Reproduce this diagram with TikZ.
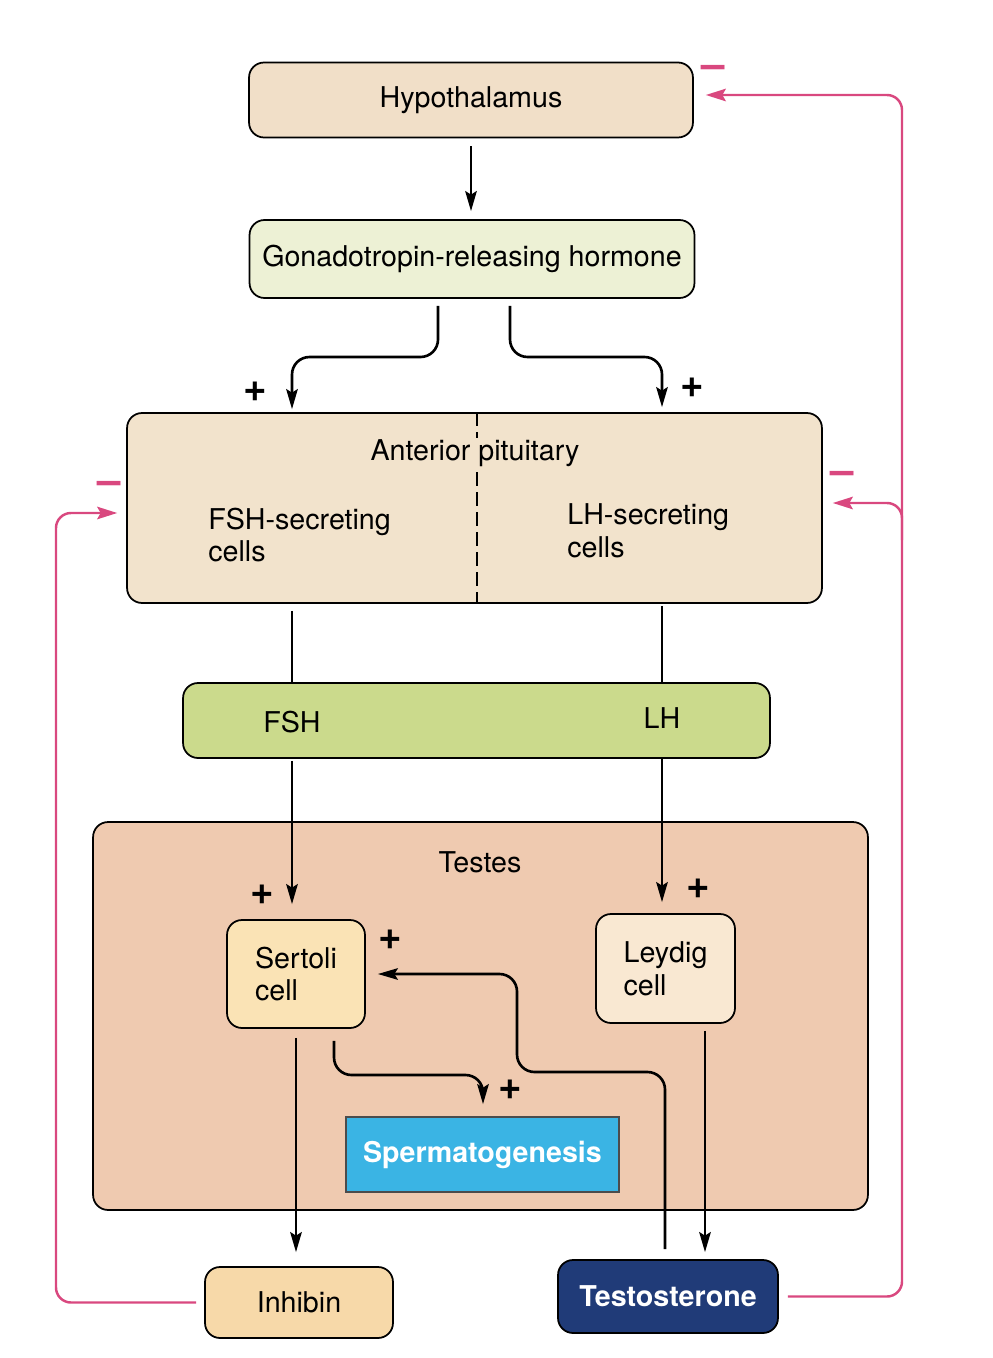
\documentclass[tikz,border=0pt]{standalone}
\usepackage{fontspec}
\setmainfont{TeX Gyre Heros}
\usetikzlibrary{arrows.meta, positioning, calc}

\definecolor{hypfill}{HTML}{F1DFC8}
\definecolor{gnrhfill}{HTML}{EDF1D5}
\definecolor{pitfill}{HTML}{F2E3CC}
\definecolor{barfill}{HTML}{CBDA8C}
\definecolor{testesfill}{HTML}{EFCAB0}
\definecolor{sertfill}{HTML}{FAE3B5}
\definecolor{leyfill}{HTML}{F9E8D2}
\definecolor{spermfill}{HTML}{3AB4E4}
\definecolor{inhfill}{HTML}{F7D9A9}
\definecolor{testofill}{HTML}{203B78}
\definecolor{pinkfb}{HTML}{D9487F}

\tikzset{
  box/.style={draw=black, line width=1pt, rounded corners=0.3cm,
    font=\fontsize{16.3}{18.7}\selectfont, align=left, inner sep=0pt},
  lbl/.style={font=\fontsize{16.3}{18.7}\selectfont, align=left, inner sep=0pt},
  flow/.style={-{Stealth[length=4mm, width=2.3mm, inset=0.7mm]}, line width=1.5pt,
    rounded corners=0.35cm},
  plain/.style={line width=1.5pt},
  feedback/.style={-{Stealth[length=4mm, width=2.5mm, inset=0.7mm]}, draw=pinkfb,
    line width=1.4pt, rounded corners=0.3cm},
  plus/.style={font=\fontsize{23}{23}\selectfont\bfseries, inner sep=0pt},
  minus/.style={font=\fontsize{24}{24}\selectfont\bfseries, text=pinkfb, inner sep=0pt},
}

\begin{document}
\begin{tikzpicture}[x=0.02cm, y=-0.02cm]
  \useasboundingbox (0,0) rectangle (992,1358);

  % Guide coordinates
  \coordinate (fshcol) at (292,0);
  \coordinate (lhcol) at (662,0);
  \coordinate (gleft) at (438,357);
  \coordinate (gright) at (510,357);
  \coordinate (divx) at (477,0);
  \coordinate (spturn) at (483,1075);
  \coordinate (tup) at (665,0);
  \coordinate (tturn) at (517,1072);
  \coordinate (tcol) at (705,0);
  \coordinate (lfb) at (56,513);
  \coordinate (rfb) at (902,95);
  \coordinate (rbr) at (902,540);

  % Testes background
  \node[box, fill=testesfill, minimum width=15.5cm, minimum height=7.76cm] (testes) at (480.5,1016) {};
  \node[lbl] (testeslbl) at (480,862) {Testes};

  % Main boxes
  \node[box, fill=hypfill, minimum width=8.88cm, minimum height=1.5cm] (hyp) at (471,100) {Hypothalamus};
  \node[box, fill=gnrhfill, minimum width=8.9cm, minimum height=1.56cm] (gnrh) at (472,259) {Gonadotropin-releasing hormone};
  \node[box, fill=pitfill, minimum width=13.9cm, minimum height=3.8cm] (pit) at (474.5,508) {};
  \node[box, fill=barfill, minimum width=11.74cm, minimum height=1.5cm] (bar) at (476.5,720.5) {};
  \node[box, fill=sertfill, minimum width=2.76cm, minimum height=2.16cm] (sertoli) at (296,974) {Sertoli\\cell};
  \node[box, fill=leyfill, minimum width=2.78cm, minimum height=2.18cm] (leydig) at (665.5,968.5) {Leydig\\cell};
  \node[box, rounded corners=0pt, fill=spermfill, draw=black!70, text=white, font=\fontsize{16.3}{18.7}\selectfont\bfseries,
    minimum width=5.46cm, minimum height=1.5cm] (sperm) at (482.5,1154.5) {Spermatogenesis};
  \node[box, fill=inhfill, minimum width=3.76cm, minimum height=1.42cm] (inhibin) at (299,1302.5) {Inhibin};
  \node[box, fill=testofill, text=white, font=\fontsize{16.3}{18.7}\selectfont\bfseries,
    minimum width=4.4cm, minimum height=1.46cm] (testo) at (668,1296.5) {Testosterone};

  % Pituitary contents
  \draw[line width=0.7pt, dash pattern=on 0.28cm off 0.12cm] (pit.north -| divx) -- (pit.south -| divx);
  \node[lbl, fill=pitfill, inner sep=1pt] (pittitle) at (475,453) {Anterior pituitary};
  \node[lbl, anchor=west] (fshcells) at (208,535) {FSH-secreting\\cells};
  \node[lbl, anchor=west] (lhcells) at (567,531) {LH-secreting\\cells};

  % Hormone bar labels
  \node[lbl] (fshlbl) at (292,722) {FSH};
  \node[lbl] (lhlbl) at (662,718) {LH};

  % Stimulating connectors
  \draw[flow, shorten <=0.16cm, shorten >=0.16cm] (hyp.south) -- (hyp.south |- gnrh.north);
  \draw[flow, shorten <=0.14cm, shorten >=0.06cm] (gnrh.south -| gleft) |- (gleft -| fshcol) -- (pit.north -| fshcol);
  \draw[flow, shorten <=0.14cm, shorten >=0.1cm] (gnrh.south -| gright) |- (gright -| lhcol) -- (pit.north -| lhcol);
  \draw[plain, shorten <=0.14cm] (pit.south -| fshcol) -- (bar.north -| fshcol);
  \draw[plain, shorten <=0.04cm] (pit.south -| lhcol) -- (bar.north -| lhcol);
  \draw[flow, shorten <=0.04cm, shorten >=0.3cm] (bar.south -| fshcol) -- (sertoli.north -| fshcol);
  \draw[flow, shorten >=0.22cm] (bar.south -| lhcol) -- (leydig.north -| lhcol);
  \draw[flow, shorten <=0.18cm, shorten >=0.28cm] (sertoli.south) -- (inhibin.north -| sertoli.south);
  \draw[flow, shorten <=0.14cm, shorten >=0.14cm] (leydig.south -| tcol) -- (testo.north -| tcol);
  \draw[flow, shorten <=0.24cm, shorten >=0.24cm] (sertoli.south -| 334,0) |- (spturn) -- (sperm.north -| spturn);
  \draw[flow, shorten <=0.2cm, shorten >=0.24cm] (testo.north -| tup) |- (tturn) |- (sertoli.east);

  % Negative feedback
  \draw[feedback, shorten <=0.16cm, shorten >=0.18cm] (inhibin.west) -| (lfb) -- ([yshift=-0.1cm]pit.west);
  \draw[feedback, shorten <=0.18cm, shorten >=0.24cm] (testo.east) -| (rfb) -- (hyp.east |- rfb);
  \draw[feedback, shorten >=0.2cm] (rbr) |- ([yshift=0.1cm]pit.east);

  % Signs
  \node[plus] (plusa) at (255,392) {+};
  \node[plus] (plusb) at (692,388) {+};
  \node[plus] (plusc) at (262,895) {+};
  \node[plus] (plusd) at (698,889) {+};
  \node[plus] (pluse) at (390,940) {+};
  \node[plus] (plusf) at (510,1090) {+};
  \node[minus] (minusa) at (713,72) {\textendash};
  \node[minus] (minusb) at (842,478) {\textendash};
  \node[minus] (minusc) at (109,488) {\textendash};
\end{tikzpicture}
\end{document}
